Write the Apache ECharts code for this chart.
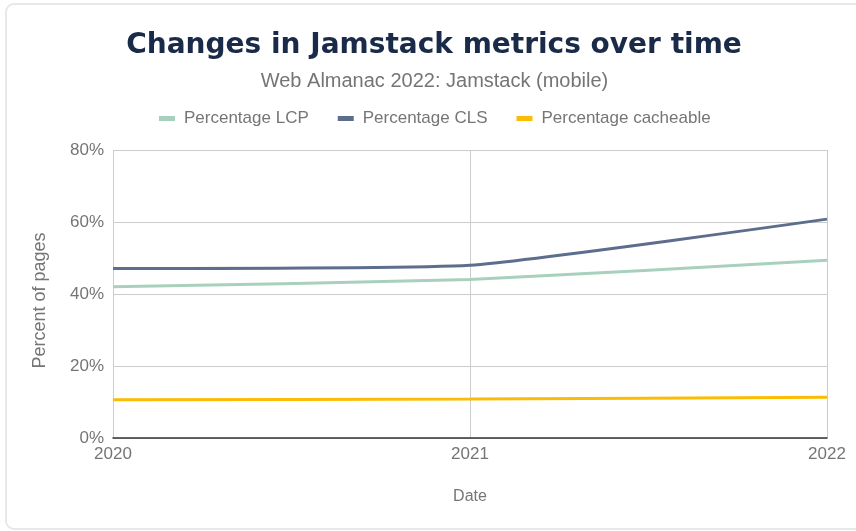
<!DOCTYPE html>
<html>
<head>
<meta charset="utf-8">
<script src="https://cdn.jsdelivr.net/npm/echarts@6/dist/echarts.min.js"></script>
<style>html,body{margin:0;padding:0;background:#fff;}#c{width:856px;height:531px;}</style>
</head>
<body>
<div id="c"></div>
<script>
var years = ['2020', '2021', '2022'];
var lcp = [42.0, 44.0, 49.4];
var cls = [47.1, 48.0, 60.8];
var cacheable = [10.6, 10.8, 11.3];
var yTicks = [0, 20, 40, 60, 80];

var chart = echarts.init(document.getElementById('c'), null, {renderer: 'canvas'});
var font = "'Liberation Sans', Arial, sans-serif";
chart.setOption({
  backgroundColor: '#fff',
  animation: false,
  graphic: [{
    type: 'rect', left: 5, top: 3, z: -10,
    shape: {width: 900, height: 525, r: 8},
    style: {fill: '#fff', stroke: '#e8e8e8', lineWidth: 2}
  }],
  title: [{
    text: 'Changes in Jamstack metrics over time',
    left: 429, textAlign: 'center', top: 27,
    textStyle: {fontFamily: "'DejaVu Sans', sans-serif", fontSize: 28, fontWeight: 'bold', color: '#1a2b49'}
  }, {
    text: 'Web Almanac 2022: Jamstack (mobile)',
    left: 429.5, textAlign: 'center', top: 66,
    textStyle: {fontFamily: font, fontSize: 20, fontWeight: 'normal', color: '#757575'}
  }],
  legend: {
    top: 105, left: 154,
    itemWidth: 16, itemHeight: 5, itemGap: 29,
    icon: 'rect',
    textStyle: {fontFamily: font, fontSize: 17, color: '#757575', padding: [0, 0, 0, 4]},
    data: ['Percentage LCP', 'Percentage CLS', 'Percentage cacheable']
  },
  grid: {left: 113, right: 29, top: 150, bottom: 93, containLabel: false},
  xAxis: {
    type: 'category', data: years, boundaryGap: false,
    name: 'Date', nameLocation: 'middle', nameGap: 51,
    nameTextStyle: {fontFamily: font, fontSize: 16, color: '#757575'},
    axisLine: {show: true, lineStyle: {color: '#333', width: 1.5}},
    axisTick: {show: false},
    axisLabel: {fontFamily: font, fontSize: 17, color: '#757575', margin: 8,
      formatter: function(v){ return v; }},
    splitLine: {show: true, lineStyle: {color: '#cccccc', width: 1}}
  },
  yAxis: {
    type: 'value', min: yTicks[0], max: yTicks[yTicks.length-1], interval: 20,
    name: 'Percent of pages', nameLocation: 'middle', nameGap: 64,
    nameTextStyle: {fontFamily: font, fontSize: 18, color: '#757575', padding: [0, 13, 0, 0]},
    axisLine: {show: false}, axisTick: {show: false},
    axisLabel: {fontFamily: font, fontSize: 17, color: '#757575', margin: 9,
      formatter: function(v){ return v + '%'; }},
    splitLine: {show: true, lineStyle: {color: '#cccccc', width: 1}}
  },
  series: [{
    name: 'Percentage LCP', type: 'line', data: lcp, smooth: 0.15,
    showSymbol: false, symbol: 'none',
    itemStyle: {color: '#a8d0bd'}, lineStyle: {color: '#a8d0bd', width: 3}
  }, {
    name: 'Percentage CLS', type: 'line', data: cls, smooth: 0.15,
    showSymbol: false, symbol: 'none',
    itemStyle: {color: '#5c6e8c'}, lineStyle: {color: '#5c6e8c', width: 3}
  }, {
    name: 'Percentage cacheable', type: 'line', data: cacheable, smooth: 0.15,
    showSymbol: false, symbol: 'none',
    itemStyle: {color: '#fbbc04'}, lineStyle: {color: '#fbbc04', width: 3}
  }]
});
</script>
</body>
</html>
